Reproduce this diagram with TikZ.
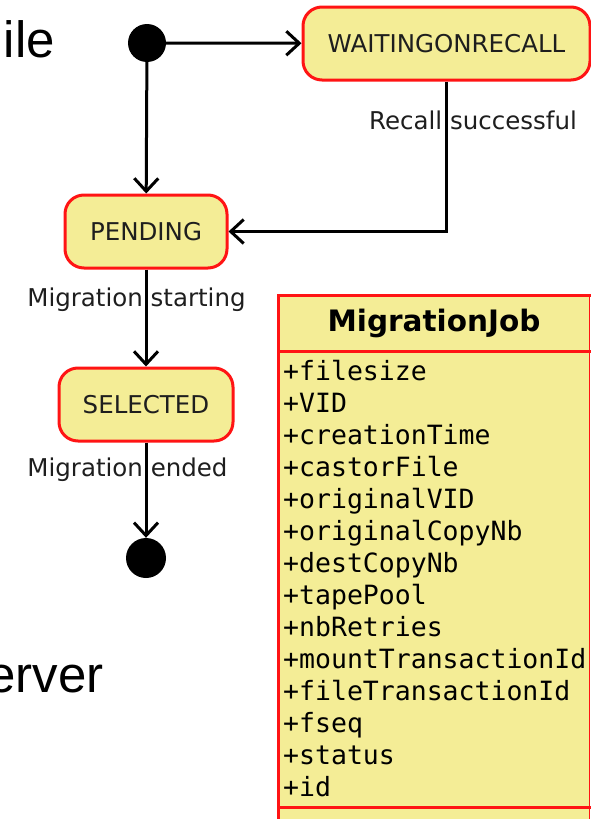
\documentclass[tikz,border=0pt]{standalone}
\usepackage{fontspec}
\setmainfont{DejaVu Sans}
\newfontfamily\slidefont{Liberation Sans}
\newfontfamily\attrfont{DejaVu Sans Mono}
\usetikzlibrary{arrows.meta}
\definecolor{umlfill}{RGB}{244,237,150}
\definecolor{umlborder}{RGB}{255,20,20}
\definecolor{umltext}{RGB}{30,30,30}
\tikzset{
  statebox/.style={draw=umlborder, line width=3pt, fill=umlfill, rounded corners=19pt,
    minimum height=73pt, inner sep=0pt, text=umltext, font=\fontsize{24.5}{28}\selectfont},
  pseudostate/.style={circle, fill=black, inner sep=0pt},
  trans/.style={line width=3pt, -{Straight Barb[length=13pt,width=24pt,line width=3pt]}},
  translabel/.style={inner sep=0pt, text=umltext, font=\fontsize{24.5}{28}\selectfont},
  attr/.style={anchor=base west, inner sep=0pt, font=\attrfont\fontsize{26.5}{32}\selectfont, text=black},
  slidetext/.style={anchor=base east, inner sep=0pt, font=\slidefont\fontsize{51}{60}\selectfont}
}
\begin{document}
\begin{tikzpicture}[x=1pt,y=-1pt]
\useasboundingbox (0,0) rectangle (591,819);

% slide text behind the diagram
\node[slidetext] (slideA) at (55,57) {ile};
\node[slidetext] (slideB) at (104,692) {erver};

% state machine
\node[pseudostate, minimum size=38pt] (init) at (147,43) {};
\node[statebox, minimum width=287pt] (wait) at (446.5,43.5) {WAITINGONRECALL};
\node[statebox, minimum width=162pt] (pend) at (146,231.5) {PENDING};
\node[statebox, minimum width=174pt] (sel) at (146,404.5) {SELECTED};
\node[pseudostate, minimum size=40pt] (final) at (146,558) {};

\node[translabel] (lrecall) at (473,120) {Recall successful};
\node[translabel] (lstart) at (136.5,300) {Migration starting};
\node[translabel] (lend) at (127.5,470) {Migration ended};

\draw[trans] (init) -- (wait);
\draw[trans] (init) -- (pend);
\draw[trans] (wait.south) |- (pend.east);
\draw[trans] (pend) -- (sel);
\draw[trans] (sel) -- (final);

% class MigrationJob
\fill[umlfill] (278,295) rectangle (589.5,830);
\draw[umlborder, line width=1.5pt] (589.5,295) -- (589.5,830);
\draw[umlborder, line width=3pt] (278,830) -- (278,295) -- (591,295);
\draw[umlborder, line width=3pt] (278,351) -- (591,351);
\draw[umlborder, line width=3pt] (278,807.5) -- (591,807.5);
\node[inner sep=0pt, font=\bfseries\fontsize{29.5}{34}\selectfont] (cname) at (434,323) {MigrationJob};

\foreach \name [count=\i from 0] in {filesize,VID,creationTime,castorFile,originalVID,
    originalCopyNb,destCopyNb,tapePool,nbRetries,mountTransactionId,fileTransactionId,
    fseq,status,id} {
  \node[attr] (attr\i) at (283,{380.5+32*\i}) {+\name};
}
\end{tikzpicture}
\end{document}
